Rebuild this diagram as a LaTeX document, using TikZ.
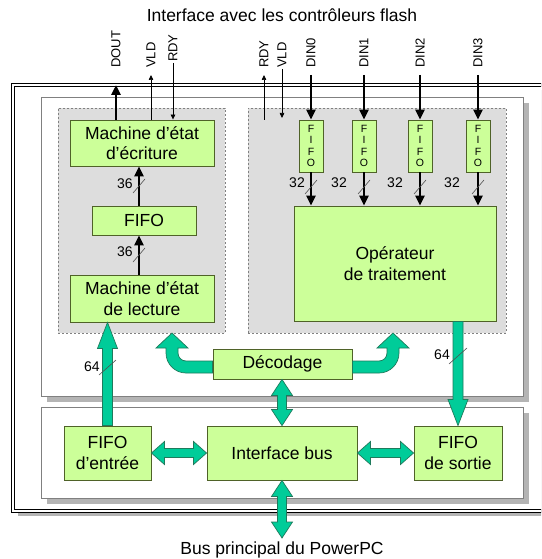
\documentclass[tikz,border=0pt]{standalone}
\usepackage{fontspec}
\setmainfont{Liberation Sans}
\usetikzlibrary{arrows.meta,calc}
\definecolor{boxfill}{HTML}{CCFF99}
\definecolor{boxline}{HTML}{4F6228}
\definecolor{fatfill}{HTML}{00CC99}
\definecolor{fatline}{HTML}{1F7A5C}
\definecolor{regfill}{HTML}{DDDDDD}
\definecolor{regline}{HTML}{808080}
\definecolor{panline}{HTML}{808080}
\definecolor{shad}{HTML}{B4B4B4}
\definecolor{slashc}{HTML}{505050}

\newcommand\fatup[2]{\filldraw[fat] let \p1=#1,\p2=#2 in
  (\x1-5pt,\y1) -- (\x1-5pt,\y2-26pt) -- (\x1-10pt,\y2-26pt) -- (\x1,\y2) --
  (\x1+10pt,\y2-26pt) -- (\x1+5pt,\y2-26pt) -- (\x1+5pt,\y1) -- cycle;}
\newcommand\fatdown[2]{\filldraw[fat] let \p1=#1,\p2=#2 in
  (\x1-5pt,\y1) -- (\x1-5pt,\y2+26pt) -- (\x1-10pt,\y2+26pt) -- (\x1,\y2) --
  (\x1+10pt,\y2+26pt) -- (\x1+5pt,\y2+26pt) -- (\x1+5pt,\y1) -- cycle;}
\newcommand\fatvv[2]{\filldraw[fat] let \p1=#1,\p2=#2 in
  (\x1,\y1) -- (\x1+10.5pt,\y1+16pt) -- (\x1+4.5pt,\y1+16pt) -- (\x1+4.5pt,\y2-16pt) --
  (\x1+10.5pt,\y2-16pt) -- (\x1,\y2) -- (\x1-10.5pt,\y2-16pt) -- (\x1-4.5pt,\y2-16pt) --
  (\x1-4.5pt,\y1+16pt) -- (\x1-10.5pt,\y1+16pt) -- cycle;}
\newcommand\fathh[2]{\filldraw[fat] let \p1=#1,\p2=#2 in
  (\x1,\y1) -- (\x1+13pt,\y1+11.5pt) -- (\x1+13pt,\y1+4.5pt) -- (\x2-13pt,\y1+4.5pt) --
  (\x2-13pt,\y1+11.5pt) -- (\x2,\y1) -- (\x2-13pt,\y1-11.5pt) -- (\x2-13pt,\y1-4.5pt) --
  (\x1+13pt,\y1-4.5pt) -- (\x1+13pt,\y1-11.5pt) -- cycle;}
% bent arrow: #1 = box side point, #2 = tip, #3 = +1 (tip left of box) or -1 (tip right of box)
\newcommand\fatbent[3]{\filldraw[fat] let \p1=#1,\p2=#2,\n1={#3} in
  (\x1,\y1+3pt) -- (\x2+\n1*14pt,\y1+3pt)
  .. controls (\x2+\n1*9.6pt,\y1+3pt) and (\x2+\n1*6pt,\y1+6.6pt) .. (\x2+\n1*6pt,\y1+11pt)
  -- (\x2+\n1*6pt,\y2-15pt) -- (\x2+\n1*16pt,\y2-15pt) -- (\x2,\y2) -- (\x2-\n1*16pt,\y2-15pt)
  -- (\x2-\n1*6pt,\y2-15pt) -- (\x2-\n1*6pt,\y2-20pt)
  .. controls (\x2-\n1*6pt,\y2-31pt) and (\x2+\n1*3pt,\y1-9pt) .. (\x2+\n1*14pt,\y1-9pt)
  -- (\x1,\y1-9pt) -- cycle;}

\begin{document}
\begin{tikzpicture}[x=1pt,y=-1pt,
  gbox/.style={draw=boxline,fill=boxfill,line width=0.9pt,inner sep=0pt,align=center,
    font=\fontsize{17.5}{20.5}\selectfont},
  sfifo/.style={draw=boxline,fill=boxfill,line width=0.9pt,inner sep=0pt,align=center,
    minimum width=24pt,minimum height=52pt,font=\fontsize{10.5}{11.3}\selectfont},
  region/.style={draw=regline,fill=regfill,dash pattern=on 2pt off 2pt,line width=0.7pt,inner sep=0pt},
  lbl/.style={font=\fontsize{13}{15}\selectfont,inner sep=0pt,rotate=90,anchor=west},
  num/.style={font=\fontsize{14}{16}\selectfont,inner sep=0pt},
  thk/.style={line width=2.6pt,-{Triangle[length=10pt,width=9pt]}},
  thn/.style={line width=0.7pt,-{Triangle[length=5pt,width=4.5pt]}},
  fat/.style={fill=fatfill,draw=fatline,line width=0.7pt},
  slash/.style={draw=slashc,line width=0.6pt},
  ttl/.style={font=\fontsize{17.5}{20}\selectfont,inner sep=0pt}]

\clip (0,0) rectangle (541,559);
\fill[white] (0,0) rectangle (541,559);

% outer frame
\fill[shad] (18,90) rectangle (570,516);
\fill[white] (13,85) rectangle (565,511);
\draw[double=white,double distance=2.4pt,line width=0.8pt] (13,85) rectangle (565,511);

% panels
\fill[shad] (47,103) rectangle (529,402);
\draw[panline,fill=white,line width=0.7pt] (41,97) rectangle (523,396);
\fill[shad] (47,413) rectangle (529,504);
\draw[panline,fill=white,line width=0.7pt] (41,407) rectangle (523,498);

% grey regions
\node[region,minimum width=167pt,minimum height=225pt] (lreg) at (141.5,220.5) {};
\node[region,minimum width=258pt,minimum height=225pt] (rreg) at (377,220.5) {};

% titles
\node[ttl] (title) at (282,15) {Interface avec les contrôleurs flash};
\node[ttl] (bus) at (282,550) {Bus principal du PowerPC};

% left boxes
\node[gbox,minimum width=144pt,minimum height=46pt] (ecr) at (142,143) {Machine d’état\\d’écriture};
\node[gbox,minimum width=104pt,minimum height=29pt] (fifo) at (144,220.5) {FIFO};
\node[gbox,minimum width=144pt,minimum height=47pt] (lec) at (142,298.5) {Machine d’état\\de lecture};

% right boxes
\node[sfifo] (f0) at (311,146) {F\\I\\F\\O};
\node[sfifo] (f1) at (364,146) {F\\I\\F\\O};
\node[sfifo] (f2) at (420,146) {F\\I\\F\\O};
\node[sfifo] (f3) at (478,146) {F\\I\\F\\O};
\node[gbox,minimum width=202pt,minimum height=115pt] (op) at (395,263.5) {Opérateur\\de traitement};

% decoding and bus
\node[gbox,minimum width=139pt,minimum height=30pt] (dec) at (282.5,364) {Décodage};
\node[gbox,minimum width=87pt,minimum height=54pt] (fin) at (107.5,453) {FIFO\\d’entrée};
\node[gbox,minimum width=150pt,minimum height=54pt] (ibus) at (282,453) {Interface bus};
\node[gbox,minimum width=88pt,minimum height=54pt] (fout) at (458,453) {FIFO\\de sortie};

% signal labels
\node[lbl] (dout) at (116,68) {DOUT};
\node[lbl] (vldL) at (151,68) {VLD};
\node[lbl] (rdyL) at (173,62) {RDY};
\node[lbl] (rdyR) at (264,68) {RDY};
\node[lbl] (vldR) at (282,68) {VLD};
\node[lbl] (din0) at (311,68) {DIN0};
\node[lbl] (din1) at (364,68) {DIN1};
\node[lbl] (din2) at (420,68) {DIN2};
\node[lbl] (din3) at (478,68) {DIN3};

% control arrows
\draw[thk] (ecr.north -| dout.west) -- ([yshift=-17pt]dout.west);
\draw[thn] (ecr.north -| vldL.west) -- ([yshift=-7pt]vldL.west);
\draw[thn] ([yshift=-1pt]rdyL.west) -- (ecr.north -| rdyL.west);
\coordinate (rdyRb) at (264,120);
\coordinate (vldRb) at (282,118);
\draw[thn] (rdyRb) -- ([yshift=-7pt]rdyR.west);
\draw[thn] ([yshift=-1pt]vldR.west) -- (vldRb);
\foreach \i in {0,1,2,3}{
  \draw[thk] ([yshift=-7pt]din\i.west) -- (f\i.north);
  \draw[thk] (f\i.south) -- (op.north -| f\i.south);
}

% 36-bit links
\coordinate (c36) at (139,0);
\draw[thk] (lec.north -| c36) -- (fifo.south -| c36);
\draw[thk] (fifo.north -| c36) -- (ecr.south -| c36);
\node[num] (n36a) at (125,184) {36};
\node[num] (n36b) at (125,252) {36};
\draw[slash] (133,193) -- (145,179);
\draw[slash] (133,262) -- (145,248);

% 32-bit labels
\node[num] (n32a) at (297,183) {32};
\node[num] (n32b) at (339,183) {32};
\node[num] (n32c) at (395,183) {32};
\node[num] (n32d) at (452,183) {32};
\draw[slash] (305,194) -- (317,180);
\draw[slash] (358,194) -- (370,180);
\draw[slash] (414,194) -- (426,180);
\draw[slash] (472,194) -- (484,180);

% fat arrows
\coordinate (ltip) at (172,333);
\coordinate (rtip) at (393,333);
\fatbent{(dec.west)}{(ltip)}{1}
\fatbent{(dec.east)}{(rtip)}{-1}
\fatup{(fin.north)}{(lec.south -| fin.north)}
\fatdown{(op.south -| fout.north)}{(fout.north)}
\fatvv{(ibus.north)}{(dec.south)}
\coordinate (busend) at (282,538);
\fatvv{(busend)}{(ibus.south)}
\fathh{(fin.east)}{(ibus.west)}
\fathh{(ibus.east)}{(fout.west)}

% 64-bit labels
\node[num] (n64a) at (92,367) {64};
\node[num] (n64b) at (442,355) {64};
\draw[slash] (99,375) -- (116,360);
\draw[slash] (449,364) -- (467,348);
\end{tikzpicture}
\end{document}
